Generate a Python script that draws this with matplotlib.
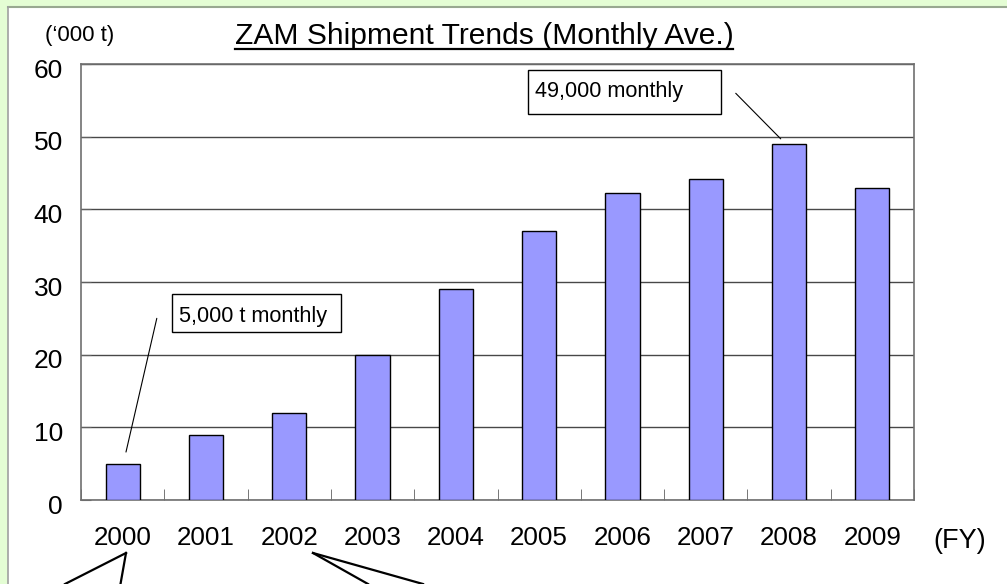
import matplotlib
matplotlib.use('Agg')
import numpy as np
import matplotlib.pyplot as plt
from matplotlib.patches import Rectangle
from matplotlib.lines import Line2D
from matplotlib.transforms import ScaledTranslation

# ---- data ----
years = ['2000', '2001', '2002', '2003', '2004', '2005', '2006', '2007', '2008', '2009']
shipments = [5, 9, 12, 20, 29, 37, 42.2, 44.2, 49, 43]
yticks = [0, 10, 20, 30, 40, 50, 60]
title = 'ZAM Shipment Trends (Monthly Ave.)'
unit_label = '(\u2018000 t)'
fy_label = '(FY)'
callout_low = '5,000 t monthly'
callout_high = '49,000 monthly'

plt.rcParams['font.family'] = ['Liberation Sans', 'DejaVu Sans']

W, H = 1007, 584
fig = plt.figure(figsize=(W / 100, H / 100), dpi=100)
fig.patch.set_facecolor('white')

def fx(px):
    return px / W

def fy(py):
    return 1 - py / H

# green frame strips
green = '#E4FDD4'
fig.add_artist(Rectangle((0, fy(6.5)), 1, 6.5 / H, transform=fig.transFigure,
                         facecolor=green, edgecolor='none', zorder=0))
fig.add_artist(Rectangle((0, 0), fx(7.5), 1, transform=fig.transFigure,
                         facecolor=green, edgecolor='none', zorder=0))
fig.add_artist(Line2D([fx(7.5), 1], [fy(6.5), fy(6.5)], transform=fig.transFigure,
                      color='#98A890', lw=1.5))
fig.add_artist(Line2D([fx(8), fx(8)], [0, fy(6.5)], transform=fig.transFigure,
                      color='#A0A0A0', lw=1.2))

ax = fig.add_axes([fx(81), fy(500), (914 - 81) / W, (500 - 64) / H])
x = np.arange(len(years))
ax.bar(x, shipments, width=0.41, color='#9999FF', edgecolor='black', linewidth=1, zorder=3)
ax.set_xlim(-0.5, len(years) - 0.5)
ax.set_ylim(yticks[0], yticks[-1])

ax.set_yticks(yticks)
ax.yaxis.grid(True, color='#484848', linewidth=1)
ax.set_axisbelow(True)
ax.tick_params(axis='y', direction='in', length=7, color='#606060', labelsize=19, pad=13)

ax.set_xticks(x)
ax.set_xticklabels(years)
ax.set_xticks(np.arange(-0.5, len(years), 1), minor=True)
ax.tick_params(axis='x', which='major', length=0, labelsize=18.7, pad=19)
ax.tick_params(axis='x', which='minor', direction='in', length=8, color='#606060')

for lab in ax.get_yticklabels():
    lab.set_transform(lab.get_transform() + ScaledTranslation(0, -4 / 100, fig.dpi_scale_trans))

for s in ax.spines.values():
    s.set_color('#707070')
    s.set_linewidth(1.2)

# callouts
ax.annotate('', xy=(0.04, shipments[0] + 1.6), xytext=(0.41, 25.0),
            arrowprops=dict(arrowstyle='-', color='black', lw=0.8, shrinkA=0, shrinkB=0))
ax.add_patch(Rectangle((0.592, 23.1), 2.62 - 0.592, 28.35 - 23.1, facecolor='white',
                       edgecolor='black', lw=1, zorder=4))
ax.text(0.676, 24.45, callout_low, fontsize=15.6, ha='left', va='baseline', zorder=5)

ax.annotate('', xy=(7.90, shipments[8] + 0.7), xytext=(7.36, 55.97),
            arrowprops=dict(arrowstyle='-', color='black', lw=0.8, shrinkA=0, shrinkB=0))
ax.add_patch(Rectangle((4.866, 53.12), 7.183 - 4.866, 59.17 - 53.12, facecolor='white',
                       edgecolor='black', lw=1, zorder=4))
ax.text(4.95, 55.4, callout_high, fontsize=15.6, ha='left', va='baseline', zorder=5)

# texts
fig.text(fx(960), fy(541), fy_label, fontsize=19.5, ha='center', va='center')
fig.text(fx(80), fy(35), unit_label, fontsize=16, ha='center', va='center')
t = fig.text(fx(484), fy(36), title, fontsize=21.6, ha='center', va='center')

fig.canvas.draw()
bb = t.get_window_extent(fig.canvas.get_renderer())
fig.add_artist(Line2D([bb.x0 / W, bb.x1 / W], [fy(48.5), fy(48.5)], transform=fig.transFigure,
                      color='black', lw=1.6))

# pointer lines at bottom
for (x0, y0), (x1, y1) in [((126, 553), (65, 584)), ((126, 553), (120.5, 584)),
                           ((313, 553), (368, 584)), ((313, 553), (423, 584))]:
    fig.add_artist(Line2D([fx(x0), fx(x1)], [fy(y0), fy(y1)], transform=fig.transFigure,
                          color='black', lw=1.6))

fig.savefig('out.png', dpi=100, facecolor=fig.get_facecolor())
